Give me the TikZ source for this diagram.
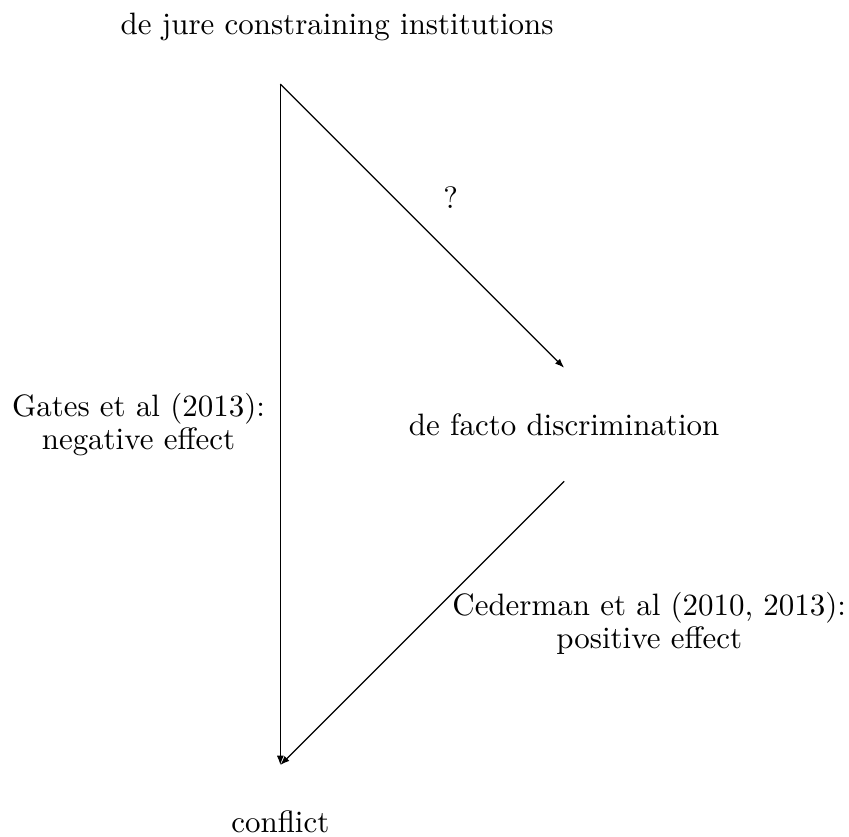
\documentclass[tikz,border=0pt]{standalone}
\usepackage{amsmath, amssymb}
\usetikzlibrary{calc,arrows.meta}

\begin{document}
\begin{tikzpicture}[x=1.29cm, y=1.29cm,
    lbl/.style={align=center, font=\fontsize{10pt}{9pt}\selectfont},
    link/.style={-{Latex[length=3pt]}, black}]
                % 画布大小
                \useasboundingbox (-2.47,-6.63) rectangle (5.01,0.74);

                % 定义连线端点
                \coordinate (jtop) at (0, 0);
                \coordinate (ftip) at (2.5, -2.5);
                \coordinate (fout) at (2.5, -3.5);
                \coordinate (cbot) at (0, -6);

                % 三个变量
                \node[lbl] (jure) at (0.5, 0.5) {de jure constraining institutions};
                \node[lbl] (facto) at (2.5, -3) {de facto discrimination};
                \node[lbl] (conflict) at (0, -6.5) {conflict};

                % 绘制箭头
                \draw[link] (jtop) -- (ftip);
                \draw[link] (jtop) -- (cbot);
                \draw[link] (fout) -- (cbot);

                % 标注文献
                \node[lbl] (qmark) at (1.5, -1) {?};
                \node[lbl] (gates) at (-1.25, -3) {Gates et al (2013):\\ negative effect};
                \node[lbl] (cederman) at (3.25, -4.75) {Cederman et al (2010, 2013):\\ positive effect};
            \end{tikzpicture}
\end{document}
